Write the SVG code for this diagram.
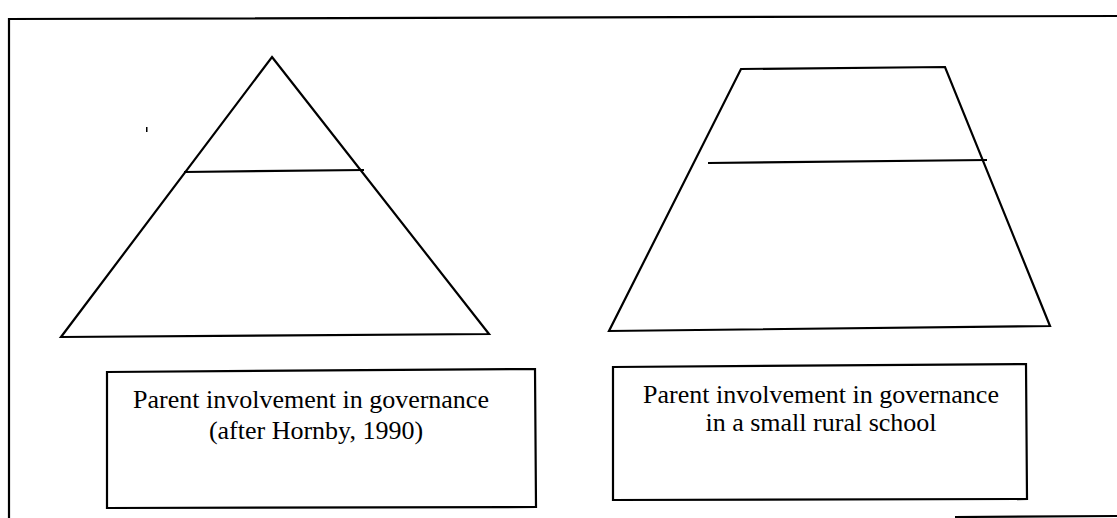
<svg xmlns="http://www.w3.org/2000/svg" width="1117" height="518" viewBox="0 0 1117 518">
<style>
.ln{fill:none;stroke:#000;stroke-width:2.2;stroke-linejoin:miter}
.tx{font-family:"Liberation Serif","Times New Roman",serif;font-size:26px;fill:#000;text-anchor:middle}
</style>
<rect width="1117" height="518" fill="#fff"/>
<g id="frame">
<polyline class="ln" points="9,518 9,19 1117,16"/>
<line class="ln" x1="955" y1="517" x2="1117" y2="516"/>
</g>
<g id="triangle">
<polygon class="ln" points="272,57 489,334 61,337"/>
<line class="ln" x1="184" y1="172" x2="364" y2="170"/>
</g>
<g id="trapezoid">
<polygon class="ln" points="741,69 945,67 1050,326 609,331"/>
<line class="ln" x1="708" y1="163" x2="987" y2="160"/>
</g>
<rect x="146" y="127" width="1.5" height="5" fill="#000"/>
<g id="box-left">
<polygon class="ln" points="107,372 535,369 536,507 107,508"/>
<text class="tx" x="311" y="408">Parent involvement in governance</text>
<text class="tx" x="316" y="439">(after Hornby, 1990)</text>
</g>
<g id="box-right">
<polygon class="ln" points="613,367 1026,364 1027,499 613,500"/>
<text class="tx" x="821" y="403">Parent involvement in governance</text>
<text class="tx" x="821" y="431">in a small rural school</text>
</g>
<g id="connectors"></g>
</svg>
